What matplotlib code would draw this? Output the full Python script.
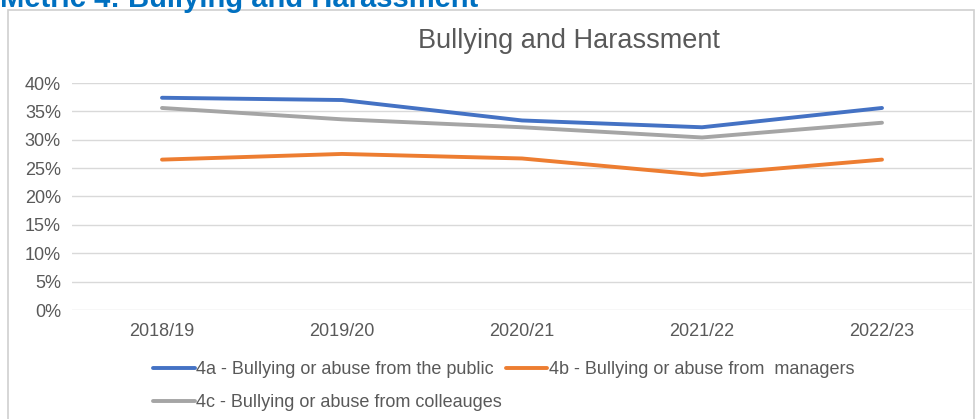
import matplotlib
matplotlib.use("Agg")
import matplotlib.pyplot as plt
from matplotlib.patches import Rectangle
from matplotlib.ticker import PercentFormatter

plt.rcParams['font.family'] = ['Liberation Sans', 'DejaVu Sans']

# data
years = ['2018/19', '2019/20', '2020/21', '2021/22', '2022/23']
public = [0.374, 0.370, 0.334, 0.322, 0.356]
managers = [0.265, 0.275, 0.267, 0.238, 0.265]
colleagues = [0.356, 0.336, 0.322, 0.304, 0.330]

labels = ['4a - Bullying or abuse from the public',
          '4b - Bullying or abuse from  managers',
          '4c - Bullying or abuse from colleauges']
colors = ['#4472C4', '#ED7D31', '#A5A5A5']
txt = '#595959'

fig = plt.figure(figsize=(9.78, 4.19), dpi=100, facecolor='white')

# chart frame
fig.patches.append(Rectangle((8 / 978, -0.05), 966 / 978, 1 - 10 / 419 + 0.05,
                             transform=fig.transFigure, fill=False,
                             edgecolor='#D0D0D0', linewidth=1.2))

# section heading, cut off at top
fig.text(0.0, 1 - 7 / 419, 'Metric 4: Bullying and Harassment', color='#0070C0',
         fontsize=21, fontweight='bold', ha='left', va='baseline')

ax = fig.add_axes([72 / 978, 1 - 310 / 419, 900 / 978, 227 / 419])
x = range(len(years))
lines = []
for vals, c, lab in zip([public, managers, colleagues], colors, labels):
    l, = ax.plot(x, vals, color=c, linewidth=2.8, label=lab, solid_capstyle='round')
    lines.append(l)

ax.set_xlim(-0.5, len(years) - 0.5)
ax.set_ylim(0, 0.4)
ax.set_yticks([i * 0.05 for i in range(9)])
ax.yaxis.set_major_formatter(PercentFormatter(1.0, decimals=0))
ax.set_xticks(list(x))
ax.set_xticklabels(years)
ax.grid(axis='y', color='#D9D9D9', linewidth=1)
ax.set_axisbelow(True)
for s in ax.spines.values():
    s.set_visible(False)
ax.tick_params(length=0, labelsize=13, colors=txt)
ax.tick_params(axis='y', pad=8)
ax.tick_params(axis='x', pad=9)

fig.text(569 / 978, 1 - 41 / 419, 'Bullying and Harassment', ha='center', va='center',
         fontsize=19.5, color=txt)

leg = fig.legend([lines[0], lines[2], lines[1]], [labels[0], labels[2], labels[1]],
                 ncol=2, loc='upper left', bbox_to_anchor=(153 / 978, 1 - 361 / 419),
                 frameon=False, fontsize=13, handlelength=2.3, handletextpad=0.1,
                 columnspacing=0.2, labelspacing=0.9, borderaxespad=0, borderpad=0)
for t in leg.get_texts():
    t.set_color(txt)

fig.savefig('out.png', dpi=100)
